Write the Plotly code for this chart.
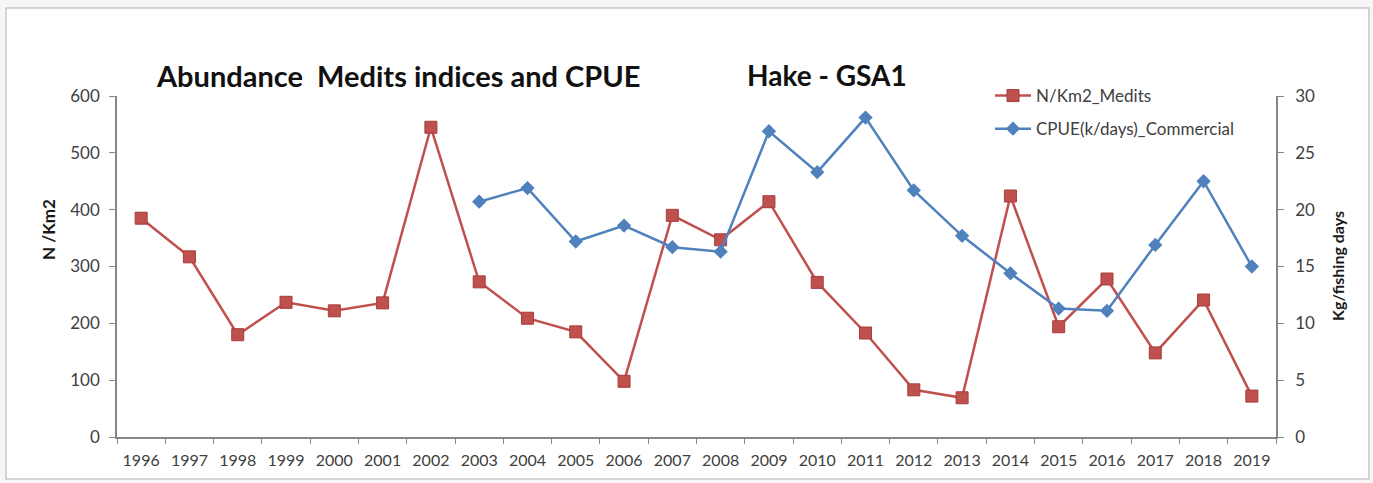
import plotly.graph_objects as go

# Survey years
years = [str(y) for y in range(1996, 2020)]

# Medits abundance index (N/Km2), 1996-2019
medits_n_km2 = [385, 317, 180, 237, 222, 236, 545, 273, 209, 185, 98, 390,
                347, 414, 272, 183, 83, 69, 424, 194, 278, 148, 241, 72]

# Commercial CPUE (kg/fishing days), available from 2003
cpue_years = [str(y) for y in range(2003, 2020)]
cpue_kg_day = [20.7, 21.9, 17.2, 18.6, 16.7, 16.3, 26.9, 23.3, 28.1, 21.7,
               17.7, 14.4, 11.3, 11.1, 16.9, 22.5, 15.0]

RED = "#C0504D"
BLUE = "#4F81BD"
AXIS = "#868686"
TXT = "#404040"
FONT = "Lato"

W, H = 1373, 483
L, R, T, B = 117, 97, 96, 46
pw, ph = W - L - R, H - T - B


def px(x):
    return (x - L) / pw


def py(y):
    return (H - B - y) / ph


fig = go.Figure()

fig.add_trace(go.Scatter(
    x=years, y=medits_n_km2, name="N/Km2_Medits", mode="lines+markers",
    legendgroup="medits",
    line=dict(color=RED, width=2.5),
    marker=dict(symbol="square", size=12, color=RED,
                line=dict(color="#A33E3B", width=1)),
    yaxis="y",
))

fig.add_trace(go.Scatter(
    x=cpue_years, y=cpue_kg_day, name="CPUE(k/days)_Commercial",
    mode="lines+markers", legendgroup="cpue",
    line=dict(color=BLUE, width=2.5),
    marker=dict(symbol="diamond", size=11, color=BLUE),
    yaxis="y2",
))

fig.update_layout(
    width=W, height=H,
    margin=dict(l=L, r=R, t=T, b=B, autoexpand=False),
    paper_bgcolor="#f6f6f6",
    plot_bgcolor="rgba(0,0,0,0)",
    font=dict(family=FONT, size=14, color=TXT),
    showlegend=True,
    legend=dict(x=px(990), y=py(78), xanchor="left", yanchor="top",
                bgcolor="rgba(0,0,0,0)", font=dict(size=17, color=TXT),
                itemwidth=36, tracegroupgap=8),
    xaxis=dict(
        type="category", categoryorder="array", categoryarray=years,
        range=[-0.5, len(years) - 0.5], automargin=False,
        showline=True, linecolor=AXIS, linewidth=1.5,
        ticks="outside", ticklen=5, tickcolor=AXIS, tickson="boundaries",
        showgrid=False, zeroline=False, ticklabelstandoff=8, tickangle=0,
        tickfont=dict(size=16, color=TXT),
    ),
    yaxis=dict(
        range=[0, 600], dtick=100, automargin=False,
        showline=True, linecolor=AXIS, linewidth=1.5,
        ticks="outside", ticklen=6, tickcolor=AXIS,
        showgrid=False, zeroline=False, ticklabelstandoff=6,
        tickfont=dict(size=17, color=TXT),
    ),
    yaxis2=dict(
        overlaying="y", side="right", automargin=False,
        range=[0, 30], dtick=5,
        showline=True, linecolor=AXIS, linewidth=1.5,
        ticks="outside", ticklen=6, tickcolor=AXIS,
        showgrid=False, zeroline=False, ticklabelstandoff=8,
        tickfont=dict(size=17, color=TXT),
    ),
)

# White chart area with a light frame
fig.add_shape(type="rect", xref="paper", yref="paper",
              x0=px(6), x1=px(1369), y0=py(479), y1=py(8),
              line=dict(color="#c8c8c8", width=1.5), fillcolor="white",
              layer="below")

# Chart titles
fig.add_annotation(text="<b>Abundance  Medits indices and CPUE</b>",
                   xref="paper", yref="paper", x=px(154), y=py(75),
                   xanchor="left", yanchor="middle", showarrow=False,
                   font=dict(size=29, color="#111111", family=FONT))
fig.add_annotation(text="<b>Hake - GSA1</b>",
                   xref="paper", yref="paper", x=px(745), y=py(75),
                   xanchor="left", yanchor="middle", showarrow=False,
                   font=dict(size=28, color="#111111", family=FONT))

# Axis titles
fig.add_annotation(text="<b>N /Km2</b>", textangle=-90,
                   xref="paper", yref="paper", x=px(48), y=py(230),
                   xanchor="center", yanchor="middle", showarrow=False,
                   font=dict(size=17, color="#1a1a1a", family=FONT))
fig.add_annotation(text="<b>Kg/fishing days</b>", textangle=-90,
                   xref="paper", yref="paper", x=px(1337), y=py(266),
                   xanchor="center", yanchor="middle", showarrow=False,
                   font=dict(size=16, color="#1a1a1a", family=FONT))

fig.write_html("out.html")
